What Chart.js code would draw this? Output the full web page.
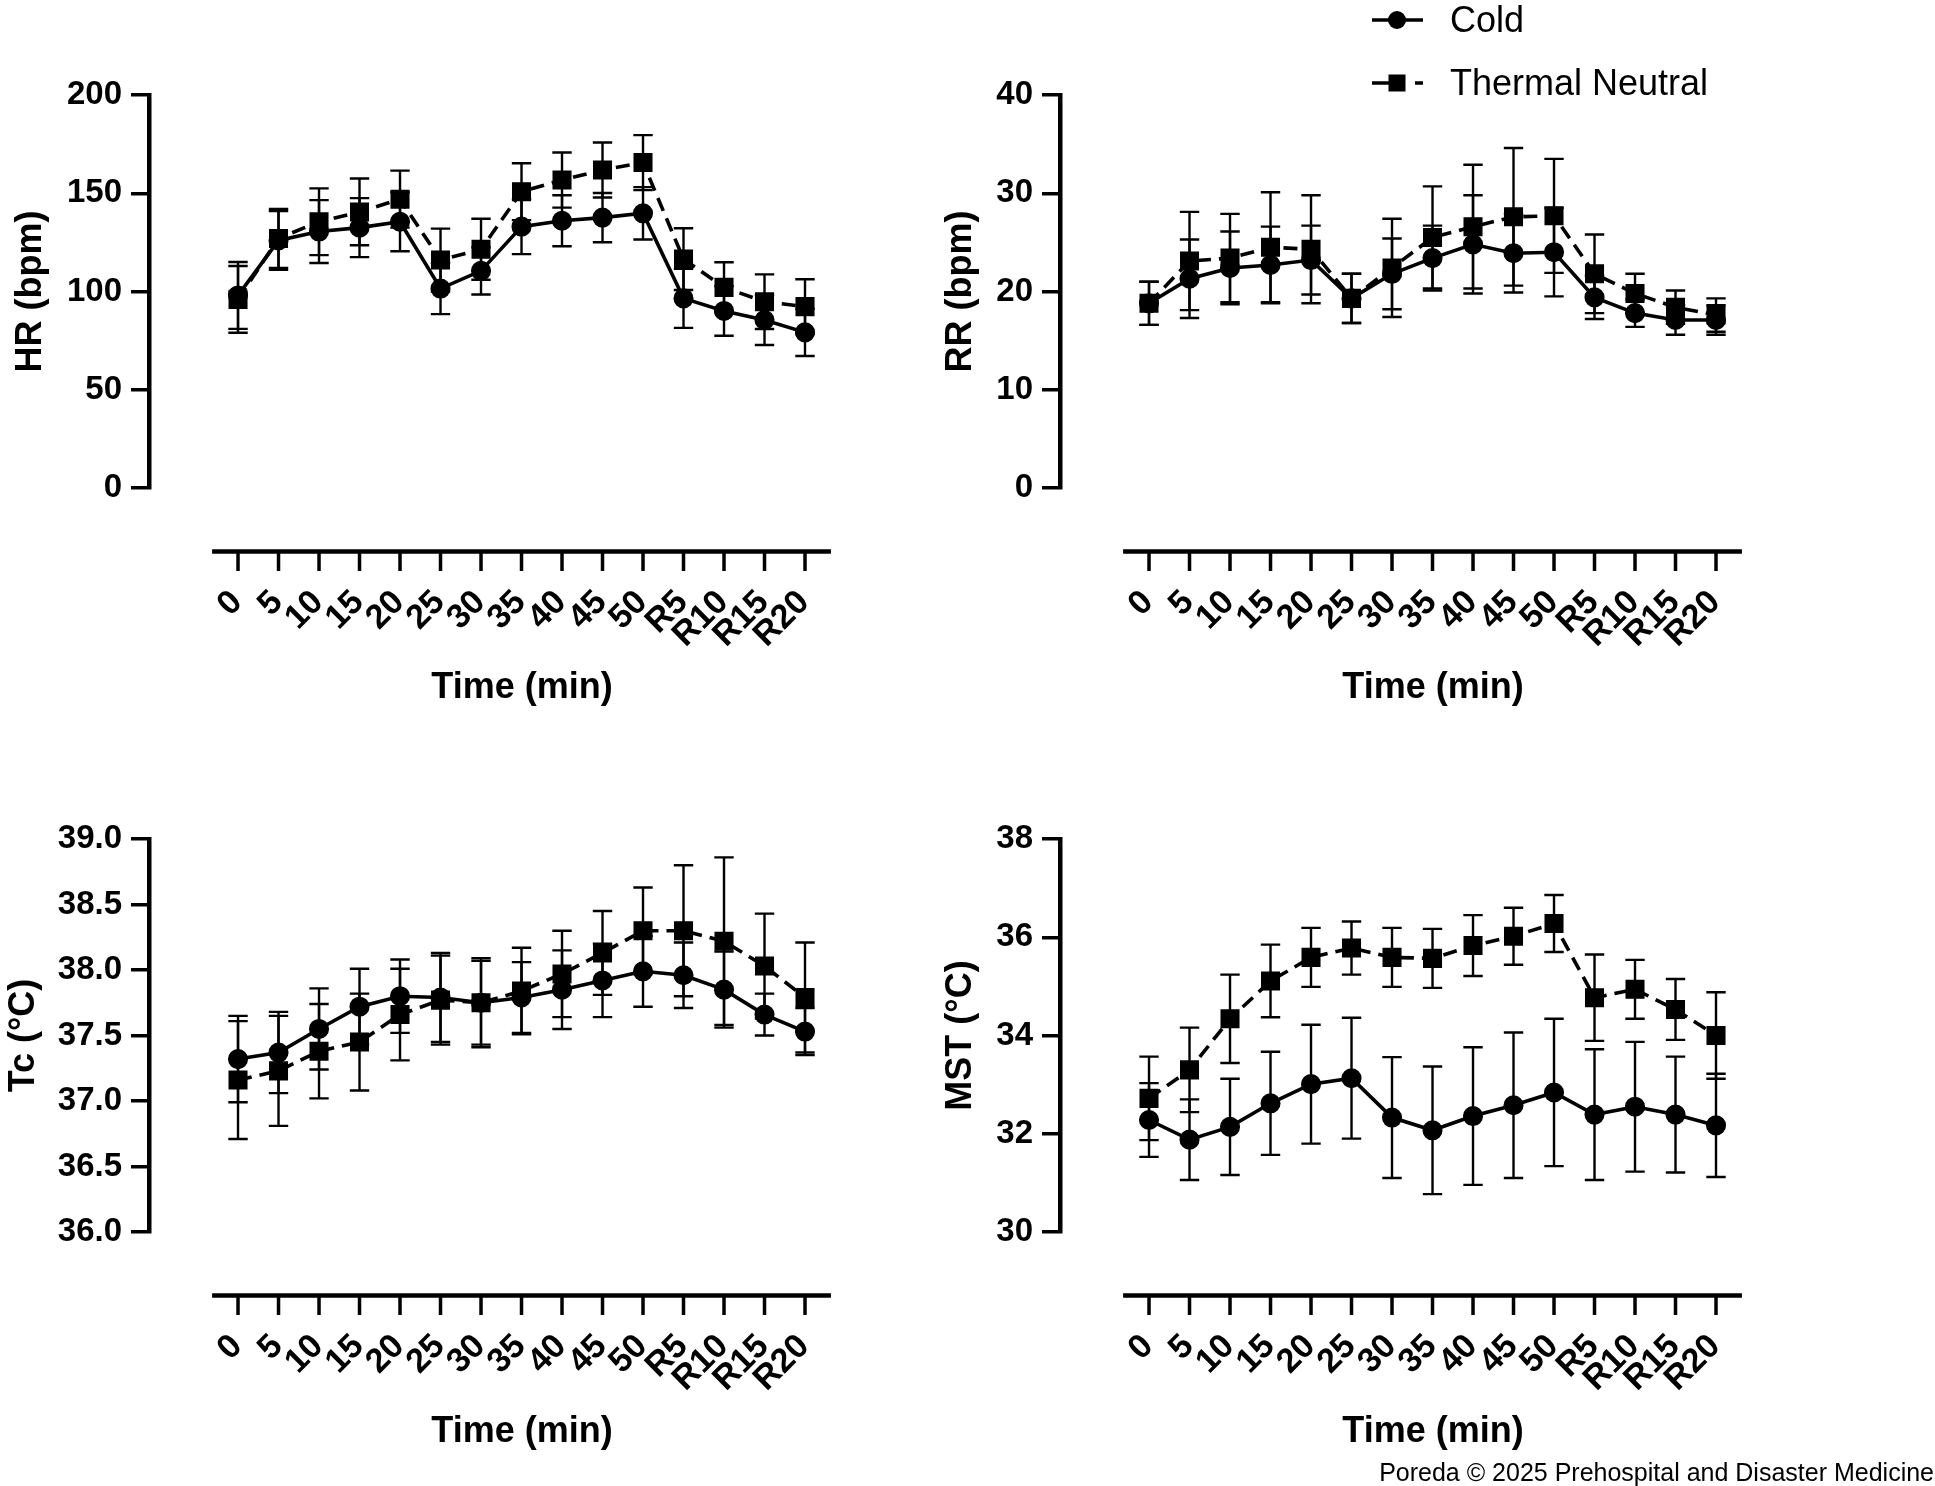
<!DOCTYPE html>
<html>
<head>
<meta charset="utf-8">
<script src="https://cdn.jsdelivr.net/npm/chart.js@4.4.1/dist/chart.umd.min.js"></script>
<style>
  html, body { margin: 0; padding: 0; background: #fff; }
  body { width: 1935px; height: 1486px; position: relative; overflow: hidden;
         font-family: 'Liberation Sans', Arial, Helvetica, sans-serif; }
  canvas { position: absolute; }
  .legtext { position: absolute; font-size: 36px; line-height: 40px; color: #000; white-space: nowrap; }
  #credit { position: absolute; right: 1px; top: 1457px; font-size: 25px; line-height: 30px; color: #000; white-space: nowrap; }
</style>
</head>
<body>
<canvas id="hr"  width="911"  height="742" style="left:0px;top:0px"></canvas>
<canvas id="rr"  width="1024" height="742" style="left:911px;top:0px"></canvas>
<canvas id="tc"  width="911"  height="742" style="left:0px;top:744px"></canvas>
<canvas id="mst" width="1024" height="742" style="left:911px;top:744px"></canvas>

<canvas id="legCold" width="56" height="30" style="left:1370px;top:4.5px"></canvas>
<div class="legtext" style="left:1450px;top:0px">Cold</div>
<canvas id="legTN" width="56" height="30" style="left:1370px;top:68px"></canvas>
<div class="legtext" style="left:1450px;top:63px">Thermal Neutral</div>

<div id="credit">Poreda © 2025 Prehospital and Disaster Medicine</div>

<script>
// ---------- data ----------
const TIME_LABELS = ['0','5','10','15','20','25','30','35','40','45','50','R5','R10','R15','R20'];

const HR_YTICKS  = [0, 50, 100, 150, 200];
const HR_COLD    = [98, 126, 130.5, 132.5, 135.5, 101.5, 110.5, 133, 136, 137.6, 139.8, 96.5, 90.1, 85.5, 79.2];
const HR_COLD_SD = [17, 15, 16, 15, 15, 13, 12, 14, 13, 12.5, 13.3, 15, 12.6, 12.7, 12];
const HR_TN      = [96, 127, 135.5, 140.5, 147, 116, 121.5, 150.8, 156.7, 161.8, 165.6, 116.5, 102.1, 94.8, 92.3];
const HR_TN_SD   = [17, 15, 17, 17, 14.5, 16, 15.5, 14.5, 14, 14, 14, 15.7, 12.8, 13.9, 13.9];

const RR_YTICKS  = [0, 10, 20, 30, 40];
const RR_COLD    = [18.8, 21.3, 22.4, 22.7, 23.2, 19.3, 21.8, 23.4, 24.8, 23.9, 24.0, 19.4, 17.8, 17.1, 17.1];
const RR_COLD_SD = [2.2, 4.0, 3.7, 3.9, 3.5, 2.5, 3.6, 3.3, 5.0, 4.0, 4.5, 2.2, 1.4, 1.5, 1.5];
const RR_TN      = [18.8, 23.1, 23.4, 24.5, 24.3, 19.3, 22.4, 25.5, 26.6, 27.6, 27.7, 21.8, 19.8, 18.4, 17.6];
const RR_TN_SD   = [2.2, 5.0, 4.5, 5.6, 5.5, 2.5, 5.0, 5.2, 6.3, 7.0, 5.8, 4.0, 2.0, 1.7, 1.7];

const TC_YTICKS  = [36.0, 36.5, 37.0, 37.5, 38.0, 38.5, 39.0];
const TC_COLD    = [37.32, 37.37, 37.55, 37.72, 37.80, 37.79, 37.75, 37.79, 37.85, 37.92, 37.99, 37.96, 37.85, 37.66, 37.53];
const TC_COLD_SD = [0.33, 0.31, 0.31, 0.29, 0.28, 0.34, 0.32, 0.27, 0.30, 0.28, 0.27, 0.25, 0.29, 0.16, 0.18];
const TC_TN      = [37.16, 37.23, 37.38, 37.45, 37.66, 37.77, 37.75, 37.84, 37.97, 38.13, 38.30, 38.30, 38.22, 38.03, 37.79];
const TC_TN_SD   = [0.45, 0.42, 0.36, 0.37, 0.35, 0.34, 0.34, 0.33, 0.33, 0.32, 0.33, 0.50, 0.64, 0.40, 0.42];

const MST_YTICKS  = [30, 32, 34, 36, 38];
const MST_COLD    = [32.28, 31.88, 32.14, 32.62, 33.01, 33.13, 32.33, 32.07, 32.36, 32.58, 32.84, 32.39, 32.55, 32.39, 32.17];
const MST_COLD_SD = [0.75, 0.82, 0.98, 1.05, 1.21, 1.23, 1.23, 1.30, 1.40, 1.48, 1.50, 1.33, 1.32, 1.18, 1.05];
const MST_TN      = [32.72, 33.30, 34.34, 35.11, 35.59, 35.78, 35.59, 35.57, 35.83, 36.02, 36.28, 34.77, 34.94, 34.53, 34.00];
const MST_TN_SD   = [0.85, 0.86, 0.90, 0.74, 0.60, 0.54, 0.60, 0.60, 0.62, 0.58, 0.58, 0.88, 0.60, 0.62, 0.88];

// ---------- plugins ----------
const FONT = "'Liberation Sans', Arial, Helvetica, sans-serif";

const errorBarsPlugin = {
  id: 'errorBars',
  beforeDatasetsDraw(chart) {
    const ctx = chart.ctx, xs = chart.scales.x, ys = chart.scales.y;
    ctx.save();
    ctx.strokeStyle = '#000';
    ctx.lineWidth = 2.4;
    ctx.lineCap = 'butt';
    chart.data.datasets.forEach(ds => {
      ds.data.forEach((p, i) => {
        const e = ds.errors[i];
        const px = xs.getPixelForValue(p.x);
        const top = ys.getPixelForValue(p.y + e);
        const bot = ys.getPixelForValue(p.y - e);
        const cw = 9.7;
        ctx.beginPath();
        ctx.moveTo(px, top); ctx.lineTo(px, bot);
        ctx.moveTo(px - cw, top); ctx.lineTo(px + cw, top);
        ctx.moveTo(px - cw, bot); ctx.lineTo(px + cw, bot);
        ctx.stroke();
      });
    });
    ctx.restore();
  }
};

const prismXAxisPlugin = {
  id: 'prismXAxis',
  afterDraw(chart) {
    const ctx = chart.ctx, xs = chart.scales.x;
    const y0 = chart.chartArea.bottom + 63.5;
    ctx.save();
    ctx.strokeStyle = '#000';
    ctx.lineCap = 'butt';
    ctx.lineWidth = 4.5;
    ctx.beginPath();
    ctx.moveTo(xs.getPixelForValue(-0.64), y0);
    ctx.lineTo(xs.getPixelForValue(TIME_LABELS.length - 1 + 0.64), y0);
    ctx.stroke();
    ctx.lineWidth = 3.5;
    xs.ticks.forEach(t => {
      const px = xs.getPixelForValue(t.value);
      ctx.beginPath();
      ctx.moveTo(px, y0);
      ctx.lineTo(px, y0 + 19.5);
      ctx.stroke();
    });
    ctx.restore();
  }
};

function makePanel(id, p) {
  const canvas = document.getElementById(id);
  const W = canvas.width, H = canvas.height;
  const toPts = arr => arr.map((v, i) => ({ x: i, y: v }));
  const common = {
    borderColor: '#000', backgroundColor: '#000',
    pointBackgroundColor: '#000', pointBorderColor: '#000',
    borderWidth: 3.6, pointBorderWidth: 1.5, tension: 0, clip: false
  };
  return new Chart(canvas, {
    type: 'line',
    data: {
      datasets: [
        Object.assign({ label: 'Cold', data: toPts(p.cold), errors: p.coldSd,
          pointStyle: 'circle', pointRadius: 9.3 }, common),
        Object.assign({ label: 'Thermal Neutral', data: toPts(p.tn), errors: p.tnSd,
          pointStyle: 'rect', pointRadius: 12.4, borderDash: [14, 8] }, common)
      ]
    },
    options: {
      responsive: false,
      animation: false,
      events: [],
      layout: { padding: { top: 95, left: 0, right: W - 895, bottom: 0 } },
      plugins: { legend: { display: false }, tooltip: { enabled: false } },
      scales: {
        x: {
          type: 'linear',
          min: -2.198, max: 16.222,
          afterBuildTicks: s => { s.ticks = TIME_LABELS.map((_, i) => ({ value: i })); },
          afterFit: s => { s.height = H - 488; },
          grid: { display: false, drawTicks: true, tickLength: 94.6 },
          border: { display: false },
          ticks: {
            autoSkip: false, minRotation: 45, maxRotation: 45,
            padding: 0, labelOffset: -1, color: '#000',
            font: { family: FONT, size: 34, weight: 'bold', lineHeight: 1.2 },
            callback: v => TIME_LABELS[v]
          },
          title: {
            display: true, text: 'Time (min)', color: '#000',
            font: { family: FONT, size: 36, weight: 'bold', lineHeight: 1 },
            padding: { top: 0, bottom: 36 }
          }
        },
        y: {
          type: 'linear',
          min: p.yTicks[0], max: p.yTicks[p.yTicks.length - 1],
          afterBuildTicks: s => { s.ticks = p.yTicks.map(v => ({ value: v })); },
          afterFit: s => { s.width = 149; },
          grid: { display: true, drawOnChartArea: false, drawTicks: true,
                  tickLength: 18, lineWidth: 3.5, color: '#000' },
          border: { display: true, color: '#000', width: 4.5 },
          ticks: {
            padding: 9, color: '#000',
            font: { family: FONT, size: 33, weight: 'bold' },
            callback: v => Number(v).toFixed(p.decimals)
          },
          title: {
            display: true, text: p.yTitle, color: '#000',
            font: { family: FONT, size: 36, weight: 'bold', lineHeight: 1 },
            padding: { top: p.titlePad, bottom: 0 }
          }
        }
      }
    },
    plugins: [errorBarsPlugin, prismXAxisPlugin]
  });
}

makePanel('hr',  { cold: HR_COLD,  coldSd: HR_COLD_SD,  tn: HR_TN,  tnSd: HR_TN_SD,  yTicks: HR_YTICKS,  decimals: 0, yTitle: 'HR (bpm)', titlePad: 13 });
makePanel('rr',  { cold: RR_COLD,  coldSd: RR_COLD_SD,  tn: RR_TN,  tnSd: RR_TN_SD,  yTicks: RR_YTICKS,  decimals: 0, yTitle: 'RR (bpm)', titlePad: 32 });
makePanel('tc',  { cold: TC_COLD,  coldSd: TC_COLD_SD,  tn: TC_TN,  tnSd: TC_TN_SD,  yTicks: TC_YTICKS,  decimals: 1, yTitle: 'Tc (°C)',  titlePad: 6 });
makePanel('mst', { cold: MST_COLD, coldSd: MST_COLD_SD, tn: MST_TN, tnSd: MST_TN_SD, yTicks: MST_YTICKS, decimals: 0, yTitle: 'MST (°C)', titlePad: 32 });

// ---------- legend symbols ----------
function drawLegendSymbol(id, kind) {
  const g = document.getElementById(id).getContext('2d');
  g.strokeStyle = '#000'; g.fillStyle = '#000'; g.lineWidth = 3.6;
  const cy = 15;
  g.beginPath();
  if (kind === 'circle') {
    g.moveTo(2, cy); g.lineTo(53, cy); g.stroke();
    g.beginPath(); g.arc(27, cy, 9, 0, Math.PI * 2); g.fill();
  } else {
    g.moveTo(2, cy); g.lineTo(22, cy);
    g.moveTo(45, cy); g.lineTo(53, cy);
    g.stroke();
    g.fillRect(18.5, cy - 8.5, 17, 17);
  }
}
drawLegendSymbol('legCold', 'circle');
drawLegendSymbol('legTN', 'rect');
</script>
</body>
</html>
